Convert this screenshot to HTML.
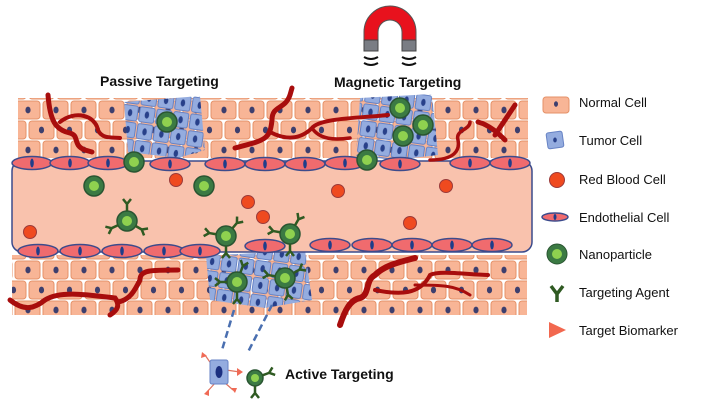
<!DOCTYPE html>
<html><head><meta charset="utf-8"><style>
html,body{margin:0;padding:0;background:#fff;}
svg{display:block;}
text{font-family:"Liberation Sans",Arial,sans-serif;}
</style></head><body>
<svg width="703" height="404" viewBox="0 0 703 404" xmlns="http://www.w3.org/2000/svg">
<defs>
<pattern id="tis" width="28" height="40" patternUnits="userSpaceOnUse">
 <rect x="1" y="1" width="25" height="18" rx="3" fill="#f8b596" stroke="#e59168" stroke-width="1"/>
 <ellipse cx="13.5" cy="10" rx="2.6" ry="3.4" fill="#3d3f6e"/>
 <rect x="-13" y="21" width="25" height="18" rx="3" fill="#f8b596" stroke="#e59168" stroke-width="1"/>
 <ellipse cx="0" cy="30" rx="2.6" ry="3.4" fill="#3d3f6e"/>
 <rect x="15" y="21" width="25" height="18" rx="3" fill="#f8b596" stroke="#e59168" stroke-width="1"/>
 <ellipse cx="28" cy="30" rx="2.6" ry="3.4" fill="#3d3f6e"/>
</pattern>
<pattern id="tum" width="17" height="17" patternUnits="userSpaceOnUse" patternTransform="rotate(8)">
 <rect x="1" y="1" width="15" height="15" rx="2" fill="#94acdf" stroke="#6682c4" stroke-width="1"/>
 <ellipse cx="8.5" cy="8.5" rx="2.2" ry="3.6" fill="#28408a"/>
</pattern>
<g id="endo"><ellipse cx="0" cy="0" rx="20" ry="6.5" fill="#f06b6e" stroke="#3c4b8c" stroke-width="1.5"/><ellipse cx="0" cy="0" rx="1.8" ry="4.5" fill="#1f3d8a"/></g>
<g id="np"><circle r="10" fill="#3b7a43" stroke="#2a5532" stroke-width="1.5"/><circle r="5" fill="#8fd14f"/></g>
<g id="rbc"><circle r="6.5" fill="#ef4a1f" stroke="#9b3a3a" stroke-width="1"/></g>
<g id="y"><path d="M0 0 L0 -7 M0 -7 L-4 -12 M0 -7 L4 -12" stroke="#2f5a22" stroke-width="2.5" fill="none"/></g>
</defs>

<!-- upper tissue -->
<rect x="18" y="98" width="510" height="60" fill="url(#tis)"/>
<!-- lower tissue -->
<rect x="12" y="255" width="515" height="60" fill="url(#tis)"/>
<!-- tumors -->
<path d="M124 102 L200 96 L205 150 L178 158 L128 152 Z" fill="url(#tum)"/>
<path d="M360 98 L432 94 L438 155 L395 160 L356 156 Z" fill="url(#tum)"/>
<path d="M206 256 L305 250 L312 300 L265 308 L210 300 Z" fill="url(#tum)"/>

<!-- vessel -->
<rect x="12" y="161" width="520" height="91" rx="10" fill="#f9c2ad" stroke="#3c4b8c" stroke-width="1.5"/>
<!-- upper endothelium -->
<g>
<use href="#endo" x="32" y="163"/><use href="#endo" x="70" y="163"/><use href="#endo" x="108" y="163"/>
<use href="#endo" x="170" y="164"/><use href="#endo" x="225" y="164"/><use href="#endo" x="265" y="164"/>
<use href="#endo" x="305" y="164"/><use href="#endo" x="345" y="163"/><use href="#endo" x="400" y="164"/>
<use href="#endo" x="470" y="163"/><use href="#endo" x="510" y="163"/>
</g>
<!-- lower endothelium -->
<g>
<use href="#endo" x="38" y="251"/><use href="#endo" x="80" y="251"/><use href="#endo" x="122" y="251"/>
<use href="#endo" x="164" y="251"/><use href="#endo" x="200" y="251"/><use href="#endo" x="265" y="246"/>
<use href="#endo" x="330" y="245"/><use href="#endo" x="372" y="245"/><use href="#endo" x="412" y="245"/>
<use href="#endo" x="452" y="245"/><use href="#endo" x="492" y="245"/>
</g>

<!-- blood vessels (red) -->
<g stroke="#a80d0d" stroke-width="5" fill="none" stroke-linecap="round">
<path d="M48 95 C50 120 55 130 70 133 C80 136 72 145 85 150 L92 152"/>
<path d="M60 122 C75 110 95 115 98 130 C102 140 115 137 120 138" stroke-width="4"/>
<path d="M235 148 C265 140 270 140 272 120 C272 105 285 110 290 95 L292 88"/>
<path d="M270 132 C285 140 300 140 312 128 C320 118 360 118 388 115" stroke-width="4"/>
<path d="M312 128 C320 140 335 140 350 138" stroke-width="3.5"/>
<path d="M430 160 C455 160 460 150 458 140 C455 130 470 130 470 122" stroke-width="3.5"/>
<path d="M478 122 C490 125 500 135 505 140 M495 135 L515 105" stroke-width="5"/>
<path d="M10 300 C25 312 35 308 45 300 C60 290 90 295 115 298 C120 305 118 310 110 315 M118 302 C130 300 135 290 140 280 C140 270 150 270 178 270" stroke-width="5"/>
<path d="M340 325 C345 310 350 300 360 298 C370 295 365 280 375 275 C385 265 400 262 415 258" stroke-width="6"/>
<path d="M375 290 C400 295 420 295 430 275 C440 270 470 275 488 275" stroke-width="4"/>
<path d="M415 285 C440 285 455 285 470 295" stroke-width="3"/>
</g>

<!-- nanoparticles -->
<use href="#np" x="167" y="122"/>
<use href="#np" x="400" y="108"/><use href="#np" x="423" y="125"/><use href="#np" x="403" y="136"/><use href="#np" x="367" y="160"/>
<use href="#np" x="134" y="162"/>
<use href="#np" x="94" y="186"/><use href="#np" x="204" y="186"/>
<g transform="translate(127,221)"><use href="#np"/><use href="#y" transform="rotate(0) translate(0,-10)"/><use href="#y" transform="rotate(-115) translate(0,-10)"/><use href="#y" transform="rotate(120) translate(0,-10)"/></g>
<g transform="translate(226,236)"><use href="#np"/><use href="#y" transform="rotate(40) translate(0,-10)"/><use href="#y" transform="rotate(-80) translate(0,-10)"/><use href="#y" transform="rotate(180) translate(0,-10)"/></g>
<g transform="translate(290,234)"><use href="#np"/><use href="#y" transform="rotate(30) translate(0,-10)"/><use href="#y" transform="rotate(-80) translate(0,-10)"/><use href="#y" transform="rotate(180) translate(0,-10)"/></g>
<g transform="translate(237,282)"><use href="#np"/><use href="#y" transform="rotate(20) translate(0,-10)"/><use href="#y" transform="rotate(-90) translate(0,-10)"/><use href="#y" transform="rotate(180) translate(0,-10)"/></g>
<g transform="translate(285,278)"><use href="#np"/><use href="#y" transform="rotate(-80) translate(0,-10)"/><use href="#y" transform="rotate(170) translate(0,-10)"/><use href="#y" transform="rotate(60) translate(0,-10)"/></g>

<!-- RBCs -->
<use href="#rbc" x="176" y="180"/><use href="#rbc" x="338" y="191"/><use href="#rbc" x="446" y="186"/>
<use href="#rbc" x="248" y="202"/><use href="#rbc" x="263" y="217"/><use href="#rbc" x="410" y="223"/><use href="#rbc" x="30" y="232"/>

<!-- dashed lines -->
<g stroke="#4a6fb0" stroke-width="2.5" stroke-dasharray="7,4" fill="none">
<path d="M234 310 L222 350"/><path d="M272 305 L248 352"/>
</g>
<!-- single tumor cell with biomarkers -->
<g stroke="#e0735f" stroke-width="1.2" fill="#f06a55">
<path d="M214 368 L205 355" /><path d="M216 382 L207 392"/><path d="M224 382 L233 390"/><path d="M226 370 L240 372"/>
</g>
<g fill="#f06a55"><path d="M202 352 L207 356 L201 358Z"/><path d="M204 394 L209 389 L209 396Z"/><path d="M235 393 L231 388 L237 388Z"/><path d="M243 372 L237 368 L237 376Z"/></g>
<rect x="210" y="360" width="18" height="24" rx="2" fill="#94acdf" stroke="#6682c4"/>
<ellipse cx="219" cy="372" rx="3.5" ry="6" fill="#1b2f80"/>
<g transform="translate(255,378)"><circle r="8" fill="#3b7a43" stroke="#2a5532" stroke-width="1.5"/><circle r="4" fill="#8fd14f"/>
<use href="#y" transform="rotate(70) translate(0,-8)"/><use href="#y" transform="rotate(180) translate(0,-8)"/></g>

<!-- magnet -->
<path d="M364 50 L364 32 A26 26 0 0 1 416 32 L416 50 L402 50 L402 32 A12 12 0 0 0 378 32 L378 50 Z" fill="#e8121d" stroke="#555" stroke-width="1"/>
<rect x="364" y="40" width="14" height="11" fill="#7a7d84" stroke="#444"/>
<rect x="402" y="40" width="14" height="11" fill="#7a7d84" stroke="#444"/>
<g stroke="#111" stroke-width="2" fill="none">
<path d="M364 57 Q371 61 378 57 M364 63 Q371 67 378 63"/>
<path d="M402 57 Q409 61 416 57 M402 63 Q409 67 416 63"/>
</g>

<!-- titles -->
<text x="100" y="86" font-size="14" font-weight="bold" fill="#111">Passive Targeting</text>
<text x="334" y="87" font-size="14" font-weight="bold" fill="#111">Magnetic Targeting</text>
<text x="285" y="379" font-size="14" font-weight="bold" fill="#111">Active Targeting</text>

<!-- legend -->
<rect x="543" y="97" width="26" height="16" rx="3" fill="#f8b596" stroke="#e59168"/>
<ellipse cx="556" cy="104" rx="2" ry="2.8" fill="#3d3f6e"/>
<rect x="547" y="132" width="16" height="16" rx="2" fill="#94acdf" stroke="#6682c4" transform="rotate(-8 555 140)"/>
<ellipse cx="555" cy="140" rx="1.8" ry="2.5" fill="#28408a"/>
<circle cx="557" cy="180" r="7.5" fill="#ef4a1f" stroke="#9b3a3a"/>
<ellipse cx="555" cy="217" rx="13" ry="4" fill="#f06b6e" stroke="#3c4b8c" stroke-width="1.5"/><ellipse cx="555" cy="217" rx="1.5" ry="3" fill="#1f3d8a"/>
<circle cx="557" cy="254" r="10" fill="#3b7a43" stroke="#2a5532"/><circle cx="557" cy="254" r="5" fill="#8fd14f"/>
<path d="M557 302 L557 294 M557 294 L551 286 M557 294 L563 286" stroke="#2f5a22" stroke-width="3.5" fill="none"/>
<path d="M549 322 L566 330 L549 338 Z" fill="#f2684f"/>
<g font-size="13" fill="#111">
<text x="579" y="107">Normal Cell</text>
<text x="579" y="145">Tumor Cell</text>
<text x="579" y="184">Red Blood Cell</text>
<text x="579" y="222">Endothelial Cell</text>
<text x="579" y="259">Nanoparticle</text>
<text x="579" y="297">Targeting Agent</text>
<text x="579" y="335">Target Biomarker</text>
</g>
</svg>
</body></html>
